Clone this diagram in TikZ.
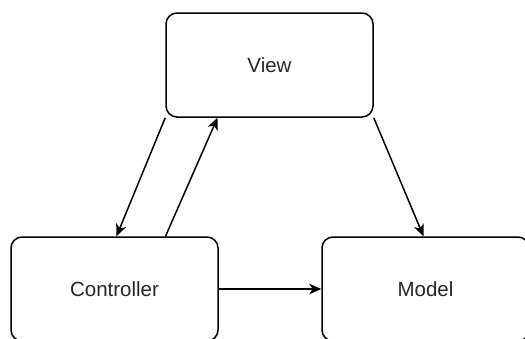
\documentclass[tikz,border=0pt]{standalone}
\usepackage{fontspec}
\setmainfont{Liberation Sans}
\usetikzlibrary{arrows.meta,calc}
\tikzset{
  block/.style={draw=black, line width=1.5pt, rounded corners=11pt, fill=white,
    minimum width=207pt, minimum height=104pt, inner sep=0pt,
    font=\fontsize{20.5}{24}\selectfont, text=black!85},
  link/.style={draw=black, line width=1.5pt,
    -{Stealth[length=12pt,width=10.5pt,inset=3.5pt]}}
}
\begin{document}
\begin{tikzpicture}[x=1pt,y=-1pt]
  \useasboundingbox (0,0) rectangle (525,338);
  \clip (0,0) rectangle (525,338);
  \fill[white] (0,0) rectangle (525,338);
  % the three parts of the pattern
  \node[block] (view) at (269.5,65) {View};
  \node[block] (ctrl) at (114.5,289) {Controller};
  \node[block] (model) at (425.5,289) {Model};
  % interactions between them
  \draw[link] (view.south west) -- ([xshift=2pt]ctrl.north);
  \draw[link] ([xshift=51pt]ctrl.north) -- ([xshift=-52pt]view.south);
  \draw[link] (view.south east) -- ([xshift=-2pt]model.north);
  \draw[link] (ctrl.east) -- (model.west);
\end{tikzpicture}
\end{document}
